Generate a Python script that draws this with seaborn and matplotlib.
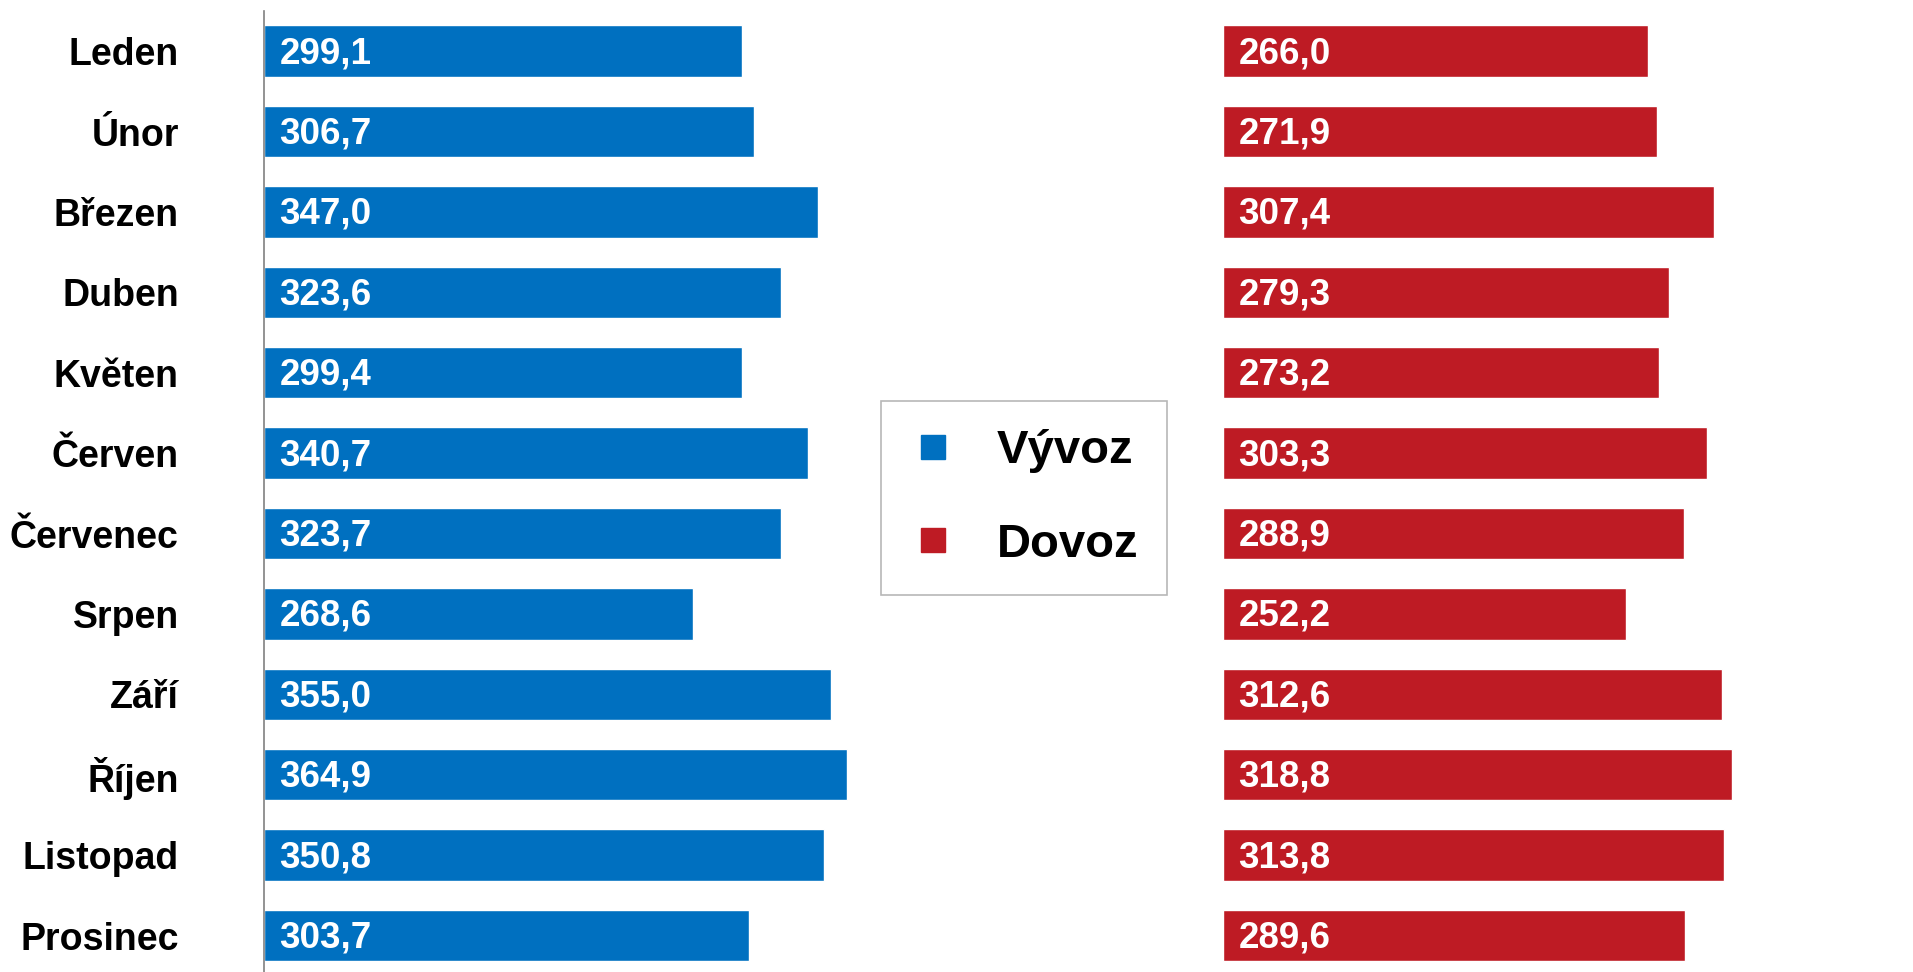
import matplotlib
matplotlib.use("Agg")
import matplotlib.pyplot as plt
from matplotlib.lines import Line2D
import seaborn as sns
import pandas as pd

# Data
mesice = ["Leden", "Únor", "Březen", "Duben", "Květen", "Červen",
          "Červenec", "Srpen", "Září", "Říjen", "Listopad", "Prosinec"]
vyvoz = [299.1, 306.7, 347.0, 323.6, 299.4, 340.7, 323.7, 268.6, 355.0, 364.9, 350.8, 303.7]
dovoz = [266.0, 271.9, 307.4, 279.3, 273.2, 303.3, 288.9, 252.2, 312.6, 318.8, 313.8, 289.6]

BLUE = "#0070C0"
RED = "#BE1B24"
OFFSET = 600  # where the import bars start

sns.set_theme(style="white")
plt.rcParams["font.family"] = ["Liberation Sans", "DejaVu Sans"]
plt.rcParams["text.color"] = "black"
plt.rcParams["ytick.color"] = "black"

df = pd.DataFrame({"mesic": mesice, "vyvoz": vyvoz, "dovoz": dovoz})

fig = plt.figure(figsize=(19.13, 9.72), dpi=100)
ax = fig.add_axes([263.5 / 1913, 0, 1 - 263.5 / 1913, 961 / 972])

sns.barplot(data=df, x="vyvoz", y="mesic", orient="h", color=BLUE,
            width=0.64, saturation=1, ax=ax)
ax.barh(range(len(mesice)), df["dovoz"], left=OFFSET, height=0.64, color=RED)

# value labels inside bars
for i, (v, d) in enumerate(zip(vyvoz, dovoz)):
    ax.text(10, i + 0.03, f"{v:.1f}".replace(".", ","), color="white", fontsize=26.5,
            fontweight="bold", va="center", ha="left")
    ax.text(OFFSET + 10, i + 0.03, f"{d:.1f}".replace(".", ","), color="white", fontsize=26.5,
            fontweight="bold", va="center", ha="left")

ax.set_xlim(0, 1032)
ax.set_ylim(11.454, -0.5)
ax.set_xlabel("")
ax.set_ylabel("")
ax.set_xticks([])
ax.tick_params(axis="y", length=0, pad=61, labelsize=27, labelcolor="black")
for lab in ax.get_yticklabels():
    lab.set_fontweight("bold")

for side in ["top", "right", "bottom"]:
    ax.spines[side].set_visible(False)
ax.spines["left"].set_color("#808080")
ax.spines["left"].set_linewidth(1.2)

handles = [
    Line2D([], [], marker="s", linestyle="none", markersize=17, color=BLUE, label="Vývoz"),
    Line2D([], [], marker="s", linestyle="none", markersize=17, color=RED, label="Dovoz"),
]
leg = fig.legend(handles=handles, loc="upper left",
                 bbox_to_anchor=(881 / 1913, 1 - 401 / 972),
                 prop={"size": 34, "weight": "bold"}, frameon=True, fancybox=False,
                 edgecolor="#A6A6A6", handlelength=1.0, handletextpad=0.85,
                 labelspacing=1.05, borderpad=0.6, borderaxespad=0)
leg.get_frame().set_linewidth(1.2)
for t in leg.get_texts():
    t.set_color("black")

fig.savefig("out.png", dpi=100)
